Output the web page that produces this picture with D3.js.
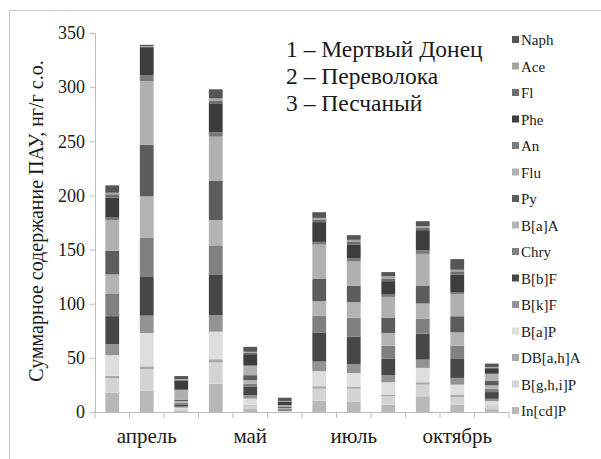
<!DOCTYPE html>
<html>
<head>
<meta charset="utf-8">
<script src="https://cdn.jsdelivr.net/npm/d3@7"></script>
<style>
  body { margin: 0; background: #fff; }
  #chart { width: 601px; height: 459px; }
</style>
</head>
<body>
<div id="chart"></div>
<script>
/* DATA: 12 bars = 4 months x 3 sites */
var months = ["апрель", "май", "июль", "октябрь"];
var sites = ["1", "2", "3"];
var siteNames = ["1 – Мертвый Донец", "2 – Переволока", "3 – Песчаный"];

// stacking order, bottom to top
var compounds = ["In[cd]P", "B[g,h,i]P", "DB[a,h]A", "B[a]P", "B[k]F", "B[b]F", "Chry", "B[a]A", "Py", "Flu", "An", "Phe", "Fl", "Ace", "Naph"];

// values per compound, bars: апр1 апр2 апр3 май1 май2 май3 июл1 июл2 июл3 окт1 окт2 окт3
var InCdP = [18, 19.7, 1.2, 26, 2.8, 0.2, 10.5, 9.8, 6.8, 14.5, 6.8, 2.7];
var BghiP = [13, 20, 1.2, 19.7, 2.5, 0.2, 11.1, 11.7, 7.7, 10.8, 7.1, 2.5];
var DBahA = [2.5, 2.5, 0.6, 3, 0.9, 0.2, 2.2, 1.8, 1.5, 2.2, 2.2, 0.8];
var BaP = [19, 30.8, 1, 25.5, 6.2, 0.3, 13.9, 12.6, 11.4, 13.2, 9.2, 4];
var BkF = [10, 16, 1, 15.4, 3.1, 0.4, 8.9, 8.3, 6.5, 7.7, 6.2, 2.2];
var BbF = [26, 35.7, 2, 37.5, 7.7, 1, 26.5, 25.5, 15.4, 24, 17.5, 6.2];
var Chry = [21, 36, 1.5, 26.8, 3.1, 0.5, 16, 17.5, 12, 13.9, 12.3, 3.1];
var BaA = [17.5, 38.5, 1.5, 23.4, 3.1, 0.8, 13.2, 14.2, 11.7, 13.9, 12.3, 3.1];
var Py = [22, 47.7, 1.5, 36, 4.6, 1, 20.9, 15.1, 13.9, 16.6, 14.8, 4];
var Flu = [28, 58.5, 8.5, 41, 8.4, 1.5, 31.4, 22.5, 19.4, 29.2, 20.6, 6.2];
var An = [2.5, 5.5, 0.6, 4, 0.8, 0.3, 2.5, 3.1, 2.2, 3.4, 1.8, 0.6];
var Phe = [18.5, 26, 8.5, 26.8, 10.2, 3, 18.2, 12.3, 12.3, 18.5, 16, 5];
var Fl = [3, 0.5, 0.8, 2.5, 1.2, 0.5, 2.5, 3.1, 2.5, 2.2, 3.1, 0.7];
var Ace = [1.5, 0.5, 0.5, 2.1, 1, 0.3, 1.5, 1.5, 2.2, 1.5, 1.5, 0.5];
var Naph = [6.8, 1.2, 2.8, 8.3, 4.6, 3, 5.2, 4.3, 3.7, 4.6, 9.8, 3.1];

var yTicks = [0, 50, 100, 150, 200, 250, 300, 350];

var series = [InCdP, BghiP, DBahA, BaP, BkF, BbF, Chry, BaA, Py, Flu, An, Phe, Fl, Ace, Naph];

/* GRAY SHADES, same order as compounds */
var shades = ["#b8b8b8", "#d4d4d4", "#a9a9a9", "#dedede", "#939393", "#474747", "#808080",
              "#b3b3b3", "#5c5c5c", "#b0b0b0", "#7a7a7a", "#3d3d3d", "#6e6e6e", "#a3a3a3", "#555555"];

var serif = "'Liberation Serif', 'Times New Roman', serif";

/* BUILD ROWS FOR d3.stack */
var rows = [];
months.forEach(function(m, mi) {
    sites.forEach(function(s, si) {
        var row = { key: m + "_" + s, month: m, site: s };
        compounds.forEach(function(c, ci) {
            row[c] = series[ci][mi * 3 + si];
        });
        rows.push(row);
    });
});

var stacked = d3.stack().keys(compounds)(rows);

/* SVG */
var width = 601, height = 459;
var svg = d3.select("#chart")
    .append("svg")
    .attr("width", width)
    .attr("height", height)
    .attr("font-family", serif);

// outer frame (left and top edges visible)
svg.append("rect")
    .attr("x", 9.5).attr("y", 10.5)
    .attr("width", 620).attr("height", 480)
    .attr("fill", "none")
    .attr("stroke", "#c8c8c8");

var x = d3.scaleBand()
    .domain(rows.map(function(d) { return d.key; }))
    .range([95, 509])
    .paddingInner(0.6)
    .paddingOuter(0.3);

var y = d3.scaleLinear()
    .domain([0, 350])
    .range([412, 33]);

var color = d3.scaleOrdinal().domain(compounds).range(shades);

/* Y AXIS */
var yAxis = svg.append("g")
    .attr("transform", "translate(95,0)")
    .call(d3.axisLeft(y).tickValues(yTicks).tickSize(5).tickPadding(5));
yAxis.attr("font-family", serif).attr("font-size", 18);
yAxis.select(".domain").attr("stroke", "#bdbdbd");
yAxis.selectAll(".tick line").attr("stroke", "#bdbdbd");
yAxis.selectAll(".tick text").attr("fill", "#1a1a1a");

svg.append("text")
    .attr("transform", "translate(43,221) rotate(-90)")
    .attr("text-anchor", "middle")
    .attr("font-size", 20)
    .attr("fill", "#1a1a1a")
    .text("Суммарное содержание ПАУ, нг/г с.о.");

/* X AXIS: tick at every bar boundary */
var step = x.step();
var bounds = d3.range(13).map(function(i) { return 95 + i * step; });
svg.append("line")
    .attr("x1", 95).attr("x2", 509)
    .attr("y1", y(0) + 0.5).attr("y2", y(0) + 0.5)
    .attr("stroke", "#bdbdbd");
svg.selectAll(".xtick")
    .data(bounds)
    .enter()
    .append("line")
        .attr("class", "xtick")
        .attr("x1", function(d) { return d; })
        .attr("x2", function(d) { return d; })
        .attr("y1", y(0))
        .attr("y2", y(0) + 6)
        .attr("stroke", "#bdbdbd");

svg.selectAll(".monthLabel")
    .data(months)
    .enter()
    .append("text")
        .attr("class", "monthLabel")
        .attr("x", function(d) { return x(d + "_2") + x.bandwidth() / 2; })
        .attr("y", 443)
        .attr("text-anchor", "middle")
        .attr("font-size", 21)
        .attr("fill", "#1a1a1a")
        .text(function(d) { return d; });

/* BARS */
var layers = svg.selectAll(".layer")
    .data(stacked)
    .enter()
    .append("g")
        .attr("class", "layer")
        .attr("fill", function(d) { return color(d.key); });

layers.selectAll("rect")
    .data(function(d) { return d; })
    .enter()
    .append("rect")
        .attr("x", function(d) { return x(d.data.key); })
        .attr("y", function(d) { return y(d[1]); })
        .attr("width", x.bandwidth())
        .attr("height", function(d) { return y(d[0]) - y(d[1]); });

/* SITE NUMBER ABOVE EACH BAR */
var top = stacked[stacked.length - 1];
svg.selectAll(".siteLabel")
    .data(top)
    .enter()
    .append("text")
        .attr("class", "siteLabel")
        .attr("x", function(d) { return x(d.data.key) + x.bandwidth() / 2; })
        .attr("y", function(d) { return y(d[1]) - 6; })
        .attr("text-anchor", "middle")
        .attr("font-size", 21)
        .attr("fill", "#1a1a1a")
        .text(function(d) { return d.data.site; });

/* SITE NAMES */
svg.selectAll(".siteName")
    .data(siteNames)
    .enter()
    .append("text")
        .attr("class", "siteName")
        .attr("x", 286)
        .attr("y", function(d, i) { return 57 + i * 27; })
        .attr("font-size", 23.5)
        .attr("fill", "#1a1a1a")
        .text(function(d) { return d; });

/* LEGEND, top entry = last stacked */
var legendItems = compounds.slice().reverse();
var legend = svg.selectAll(".legend")
    .data(legendItems)
    .enter()
    .append("g")
        .attr("class", "legend")
        .attr("transform", function(d, i) { return "translate(512," + (40 + i * 26.5) + ")"; });

legend.append("rect")
    .attr("x", 0).attr("y", -4)
    .attr("width", 7).attr("height", 7)
    .attr("fill", function(d) { return color(d); });

legend.append("text")
    .attr("x", 9)
    .attr("y", 5)
    .attr("font-size", 15)
    .attr("fill", "#1a1a1a")
    .text(function(d) { return d; });
</script>
</body>
</html>
